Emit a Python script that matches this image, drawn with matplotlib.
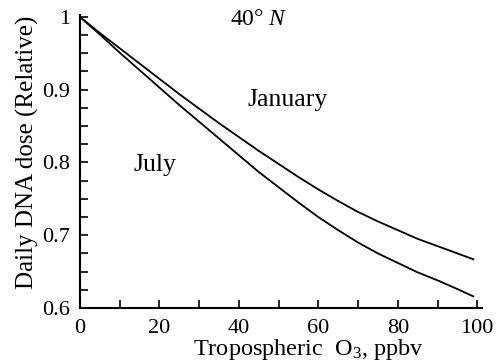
import matplotlib
matplotlib.use("Agg")
import matplotlib.pyplot as plt
from matplotlib.ticker import MultipleLocator

plt.rcParams['font.family'] = ['Liberation Serif', 'DejaVu Serif']
plt.rcParams['mathtext.fontset'] = 'custom'
plt.rcParams['mathtext.rm'] = 'Liberation Serif'
plt.rcParams['mathtext.it'] = 'Liberation Serif:italic'

ozone = [0, 5, 10, 15, 20, 25, 30, 35, 40, 45, 50,
         55, 60, 65, 70, 75, 80, 85, 90, 95, 99]
january = [1.000, 0.978, 0.957, 0.936, 0.915, 0.894, 0.874, 0.854, 0.835, 0.816, 0.798,
           0.780, 0.763, 0.747, 0.732, 0.719, 0.707, 0.695, 0.685, 0.675, 0.667]
july = [1.000, 0.976, 0.951, 0.927, 0.903, 0.879, 0.856, 0.833, 0.810, 0.787, 0.766,
        0.745, 0.725, 0.707, 0.690, 0.675, 0.662, 0.649, 0.638, 0.626, 0.616]

fig = plt.figure(figsize=(4.99, 3.63), dpi=100)
ax = fig.add_axes([0.160, 0.1515, 0.806, 0.808])

ax.plot(ozone, january, color='black', lw=1.3)
ax.plot(ozone, july, color='black', lw=1.3)

ax.set_xlim(0, 101.2)
ax.set_ylim(0.6, 1.003)
ax.xaxis.set_major_locator(MultipleLocator(20))
ax.xaxis.set_minor_locator(MultipleLocator(10))
ax.yaxis.set_minor_locator(MultipleLocator(0.025))
ax.set_yticks([0.6, 0.7, 0.8, 0.9, 1.0])
ax.set_yticklabels(['0.6', '0.7', '0.8', '0.9', '1'])

for s in ['top', 'right']:
    ax.spines[s].set_visible(False)
for s in ['left', 'bottom']:
    ax.spines[s].set_linewidth(1.5)

ax.tick_params(which='both', direction='in', length=6, width=1.2, labelsize=16)
ax.tick_params(axis='x', pad=8)
ax.tick_params(axis='y', pad=7)

# axis titles sit a bit off-centre in the original
fig.text(0.619, 0.022, 'Tropospheric  O$_3$, ppbv', fontsize=17.5,
         ha='center', va='baseline')
fig.text(0.056, 0.58, 'Daily DNA dose (Relative)', fontsize=18,
         rotation=90, ha='center', va='center')

ax.text(37.8, 0.996, '40° $N$', fontsize=17, va='center')
ax.text(42.1, 0.886, 'January', fontsize=18.5, va='center')
ax.text(13.4, 0.797, 'July', fontsize=18.5, va='center')

fig.savefig('out.png', dpi=100)
